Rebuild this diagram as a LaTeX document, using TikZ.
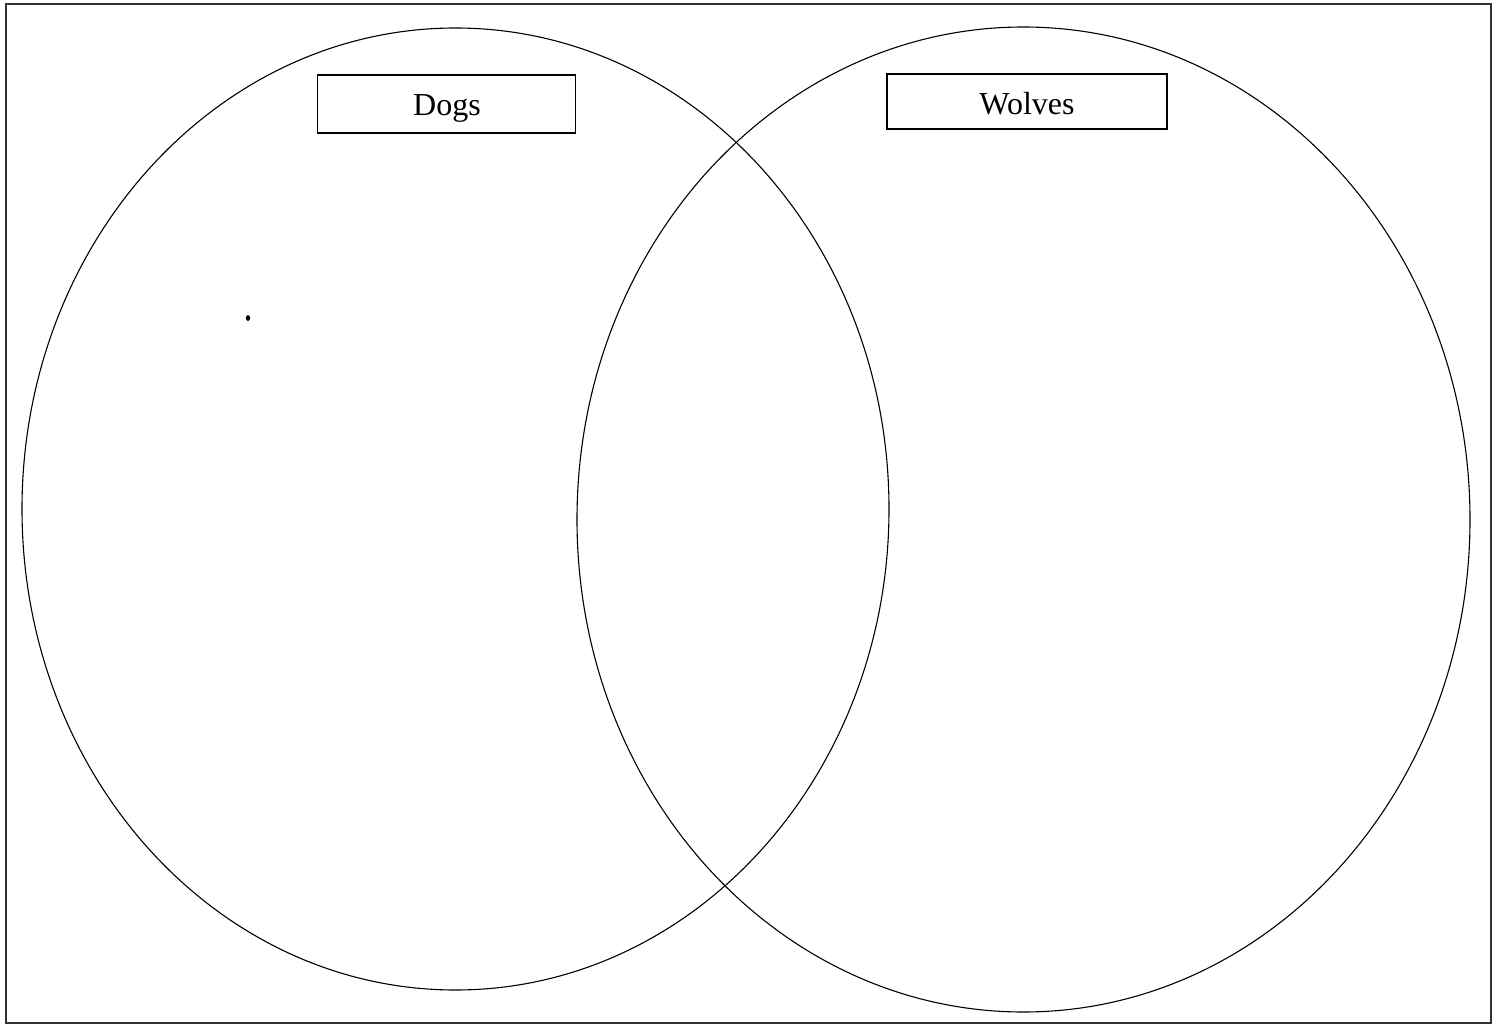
\documentclass[tikz,border=0pt]{standalone}
\usepackage{fontspec}
\setmainfont{Liberation Serif}
\begin{document}
\begin{tikzpicture}[x=1pt,y=-1pt,
  circ/.style={draw=black,line width=1.1pt},
  labelbox/.style={draw=black,line width=1.2pt,inner sep=0pt},
  labeltext/.style={font=\fontsize{32}{34}\selectfont,inner sep=0pt},
  frame/.style={draw=black!80,line width=1.6pt}]
\useasboundingbox (0,0) rectangle (1496,1024);
\draw[frame] (6,4) rectangle (1491,1023);
\draw[circ] (455.5,509) ellipse [x radius=433.5, y radius=481];
\draw[circ] (1023.5,519.5) ellipse [x radius=446.5, y radius=492.5];
\node[labelbox,minimum width=258pt,minimum height=58pt] (dogs) at (446.5,104) {};
\node[labelbox,minimum width=280pt,minimum height=55pt] (wolves) at (1027,101.5) {};
\node[labeltext] (dogstext) at (447,108) {Dogs};
\node[labeltext] (wolvestext) at (1027,104) {Wolves};
\fill (248,318) ellipse [x radius=2, y radius=3];
\end{tikzpicture}
\end{document}
